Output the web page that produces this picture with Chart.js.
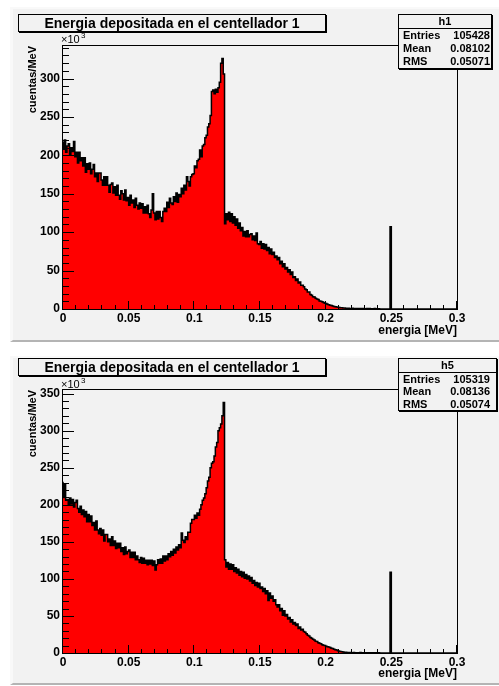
<!DOCTYPE html>
<html>
<head>
<meta charset="utf-8">
<script src="https://cdn.jsdelivr.net/npm/chart.js@4.4.1/dist/chart.umd.min.js"></script>
<style>
  html, body { margin: 0; padding: 0; background: #fff; }
  body { position: relative; width: 499px; height: 686px; overflow: hidden; font-family: "Liberation Sans", Helvetica, Arial, sans-serif; color: #000; }
  .pad { position: absolute; left: 10px; width: 489px; box-sizing: border-box; background: #f2f2f2;
         border-left: 3px solid #f9f9f9; border-top: 2px solid #f9f9f9; border-bottom: 2px solid #b4b4b4; }
  canvas { position: absolute; left: 0; }
  .ptitle { position: absolute; left: 18px; width: 306px; height: 16px; border: 1px solid #000; box-shadow: 1px 1px 0 #000;
            background: #f2f2f2; font: bold 14px "Liberation Sans", Helvetica, Arial, sans-serif; line-height: 16px; text-align: center; white-space: nowrap; }
  .stats { position: absolute; left: 398px; box-sizing: border-box; border: 1px solid #000; box-shadow: 1px 1px 0 #000; background: #f2f2f2;
           font: bold 11px "Liberation Sans", Helvetica, Arial, sans-serif; }
  .stats .sh { text-align: center; border-bottom: 1px solid #000; }
  .stats .sr { display: flex; justify-content: space-between; padding-left: 4px; }
  .exp { position: absolute; left: 61px; font: 11px "Liberation Sans", Helvetica, Arial, sans-serif; line-height: 11px; white-space: nowrap; }
  .exp span { position: absolute; left: 20px; top: -4px; font-size: 8px; }
</style>
</head>
<body>
<script>
// histogram contents, 300 bins of 1 keV from 0 to 0.3 MeV (x10^3 cuentas/MeV)
const BIN_W = 0.001;

const H1_COUNTS = [
  218, 208, 220, 204, 212, 215, 201, 210, 205, 218, 198, 204, 190, 204, 193, 197, 186, 197, 178, 189,
  182, 190, 176, 182, 188, 172, 177, 166, 177, 177, 168, 161, 172, 161, 172, 161, 152, 162, 164, 151,
  159, 148, 161, 148, 143, 154, 150, 142, 155, 141, 145, 135, 148, 138, 142, 132, 144, 135, 130, 138,
  131, 137, 125, 133, 125, 135, 124, 119, 129, 150, 125, 116, 127, 117, 127, 119, 114, 127, 131, 127,
  139, 132, 144, 138, 136, 146, 140, 151, 139, 149, 146, 157, 150, 161, 155, 172, 166, 160, 172, 175,
  176, 186, 184, 193, 195, 207, 198, 212, 214, 223, 226, 237, 241, 252, 283, 285, 280, 286, 282, 288,
  295, 320, 326, 306, 111, 124, 116, 126, 114, 124, 112, 120, 109, 117, 105, 112, 102, 106, 95, 101,
  94, 102, 94, 97, 98, 90, 95, 89, 99, 85, 84, 88, 79, 85, 78, 84, 76, 80, 72, 78,
  71, 74, 67, 69, 64, 67, 59, 62, 55, 59, 52, 54, 48, 51, 45, 48, 41, 42, 37, 39,
  34, 35, 31, 31, 29, 26, 25, 22, 22, 19, 18, 16, 15.5, 14, 13, 12.5, 10.5, 10, 9.5, 8.5,
  7.5, 7, 6.2, 5.5, 5, 4.4, 3.8, 3.4, 3, 2.6, 2.2, 2, 1.7, 1.5, 1.3, 1.2, 1, 0.9, 1.1, 0.8,
  0.6, 0.9, 0.5, 0.7, 0.4, 0.6, 0.3, 0.5, 0.4, 0.7, 0.3, 0.4, 0.6, 0.2, 0.5, 0.3, 0.4, 0.2, 0.5, 0.3,
  0.2, 0.4, 0.1, 0, 0, 0, 0, 0, 0, 0, 107, 0, 0, 0, 0, 0, 0, 0, 0, 0,
  0, 0, 0, 0, 0, 0, 0, 0, 0, 0, 0, 0, 0, 0, 0, 0, 0, 0, 0, 0,
  0, 0, 0, 0, 0, 0, 0, 0, 0, 0, 0, 0, 0, 0, 0, 0, 0, 0, 0, 0,
];

const H5_COUNTS = [
  231, 210, 228, 206, 207, 200, 209, 201, 207, 197, 203, 206, 195, 190, 198, 187, 193, 184, 191, 177,
  187, 177, 185, 172, 176, 166, 178, 166, 161, 168, 159, 166, 151, 160, 160, 150, 154, 145, 157, 145,
  151, 141, 148, 142, 148, 137, 142, 133, 143, 134, 137, 139, 129, 136, 129, 136, 126, 131, 126, 122,
  129, 121, 128, 121, 125, 119, 125, 120, 125, 118, 124, 112, 119, 126, 121, 127, 121, 131, 124, 131,
  126, 134, 130, 137, 132, 140, 135, 143, 139, 146, 142, 162, 152, 149, 157, 153, 163, 163, 175, 180,
  180, 186, 182, 189, 186, 194, 200, 206, 209, 215, 223, 232, 237, 250, 256, 258, 266, 278, 284, 300,
  304, 309, 320, 338, 126, 116, 122, 113, 120, 113, 119, 110, 115, 108, 113, 105, 110, 103, 109, 101,
  106, 100, 104, 97, 102, 94, 98, 91, 95, 89, 94, 87, 89, 83, 87, 80, 84, 71, 81, 74,
  77, 70, 72, 65, 62, 65, 57, 60, 51, 57, 50, 52, 46, 48, 42, 45, 39, 41, 37, 39,
  33, 35, 31, 32, 29, 28, 26, 24, 23, 21, 20, 18.5, 17.5, 16, 15.5, 14, 13, 12.5, 11, 10.5,
  10, 9, 8.5, 8, 7.5, 6.5, 6, 5, 4.5, 4, 3, 2.5, 2, 1.6, 1.3, 1, 0.9, 0.8, 0.6, 0.7,
  0.5, 0.4, 0.6, 0.3, 0.5, 0.4, 0.2, 0.6, 0.3, 0.4, 0.5, 0.2, 0.4, 0.3, 0.5, 0.2, 0.3, 0.4, 0.2, 0.3,
  0.2, 0.3, 0.1, 0, 0, 0, 0, 0, 0, 0, 109, 0, 0, 0, 0, 0, 0, 0, 0, 0,
  0, 0, 0, 0, 0, 0, 0, 0, 0, 0, 0, 0, 0, 0, 0, 0, 0, 0, 0, 0,
  0, 0, 0, 0, 0, 0, 0, 0, 0, 0, 0, 0, 0, 0, 0, 0, 0, 0, 0, 0,
];

const H1_STATS = [['Entries', '105428'], ['Mean', '0.08102'], ['RMS', '0.05071']];
const H5_STATS = [['Entries', '105319'], ['Mean', '0.08136'], ['RMS', '0.05074']];

const PAD_TITLE = 'Energia depositada en el centellador 1';
const X_TITLE = 'energia [MeV]';
const Y_TITLE = 'cuentas/MeV';

const X_MIN = 0, X_MAX = 0.3, X_MAJOR = 0.05, X_MINOR = 0.01;
const Y_MAJOR = 50, Y_MINOR = 10;

const FONT = 'Liberation Sans';

// ROOT-style frame: box around the plot, ticks drawn inward
const rootFrame = {
  id: 'rootFrame',
  afterDatasetsDraw(chart) {
    const { ctx, chartArea: a, scales: { x, y } } = chart;
    ctx.save();
    ctx.strokeStyle = '#000';
    ctx.lineWidth = 1;
    ctx.strokeRect(a.left - 0.5, a.top - 0.5, a.right - a.left + 1, a.bottom - a.top + 1);
    ctx.beginPath();
    const ny = Math.floor(y.max / Y_MINOR + 1e-9);
    for (let i = 0; i <= ny; i++) {
      const py = Math.round(y.getPixelForValue(i * Y_MINOR)) + 0.5;
      const len = (i * Y_MINOR) % Y_MAJOR === 0 ? 11 : 6;
      ctx.moveTo(a.left, py);
      ctx.lineTo(a.left + len, py);
    }
    const nx = Math.round((X_MAX - X_MIN) / X_MINOR);
    const perMajor = Math.round(X_MAJOR / X_MINOR);
    for (let i = 0; i <= nx; i++) {
      const px = Math.round(x.getPixelForValue(X_MIN + i * X_MINOR)) - 0.5;
      const len = i % perMajor === 0 ? 8 : 4;
      ctx.moveTo(px, a.bottom);
      ctx.lineTo(px, a.bottom - len);
    }
    ctx.stroke();
    ctx.restore();
  }
};

const PANELS = [
  { id: 'h1', counts: H1_COUNTS, stats: H1_STATS, top: 0, height: 345, padTop: 7, padH: 335,
    titleTop: 14, boxTop: 14, boxW: 94, headH: 13, rowH: 13, padR: 1, expTop: 34,
    plotTop: 46, xAxisH: 36, xTitlePad: 7 },
  { id: 'h5', counts: H5_COUNTS, stats: H5_STATS, top: 345, height: 341, padTop: 356, padH: 329,
    titleTop: 358, boxTop: 358, boxW: 99, headH: 12.5, rowH: 12.6, padR: 6, expTop: 379,
    plotTop: 45, xAxisH: 33, xTitlePad: 5 },
];

function el(tag, cls, style, text) {
  const e = document.createElement(tag);
  if (cls) e.className = cls;
  if (style) Object.assign(e.style, style);
  if (text != null) e.textContent = text;
  document.body.appendChild(e);
  return e;
}

function buildPanel(p) {
  el('div', 'pad', { top: p.padTop + 'px', height: p.padH + 'px' });

  const cv = el('canvas', null, { top: p.top + 'px' });
  cv.width = 499;
  cv.height = p.height;

  const pts = p.counts.map((v, i) => ({ x: X_MIN + i * BIN_W, y: v }));
  pts.push({ x: X_MIN + p.counts.length * BIN_W, y: p.counts[p.counts.length - 1] });
  const yMax = 1.05 * Math.max(...p.counts);

  new Chart(cv, {
    type: 'line',
    data: {
      datasets: [{
        data: pts,
        stepped: 'after',
        fill: 'origin',
        backgroundColor: '#ff0000',
        borderColor: '#000',
        borderWidth: 1.5,
        pointRadius: 0,
        tension: 0,
      }]
    },
    options: {
      responsive: false, animation: false, devicePixelRatio: 1,
      layout: { padding: { left: 20, right: 42, top: p.plotTop, bottom: 0 } },
      plugins: { legend: { display: false }, tooltip: { enabled: false } },
      scales: {
        x: {
          type: 'linear', min: X_MIN, max: X_MAX,
          afterFit: s => { s.height = p.xAxisH; },
          grid: { display: false, drawTicks: false }, border: { display: false },
          ticks: { stepSize: X_MAJOR, autoSkip: false, maxRotation: 0, padding: 2, color: '#000',
                   font: { family: FONT, size: 12, weight: 'bold' },
                   callback: v => String(+v.toFixed(2)) },
          title: { display: true, text: X_TITLE, align: 'end', color: '#000',
                   font: { family: FONT, size: 12, weight: 'bold' }, padding: { top: 0, bottom: p.xTitlePad } }
        },
        y: {
          type: 'linear', min: 0, max: yMax,
          afterFit: s => { s.width = 43; },
          grid: { display: false, drawTicks: false }, border: { display: false },
          ticks: { stepSize: Y_MAJOR, includeBounds: false, padding: 3, color: '#000',
                   font: { family: FONT, size: 12, weight: 'bold' } },
          title: { display: true, text: Y_TITLE, align: 'end', color: '#000',
                   font: { family: FONT, size: 11, weight: 'bold' }, padding: { top: 6, bottom: 0 } }
        }
      }
    },
    plugins: [rootFrame]
  });

  el('div', 'ptitle', { top: p.titleTop + 'px' }, PAD_TITLE);

  const box = el('div', 'stats', { top: p.boxTop + 'px', width: p.boxW + 'px' });
  const head = document.createElement('div');
  head.className = 'sh';
  head.style.height = head.style.lineHeight = p.headH + 'px';
  head.textContent = p.id;
  box.appendChild(head);
  p.stats.forEach(([k, v]) => {
    const r = document.createElement('div');
    r.className = 'sr';
    r.style.height = r.style.lineHeight = p.rowH + 'px';
    r.style.paddingRight = p.padR + 'px';
    const a = document.createElement('span'); a.textContent = k;
    const b = document.createElement('span'); b.textContent = v;
    r.appendChild(a); r.appendChild(b);
    box.appendChild(r);
  });

  const ex = el('div', 'exp', { top: p.expTop + 'px' }, '\u00d710');
  const sup = document.createElement('span');
  sup.textContent = '3';
  ex.appendChild(sup);
}

PANELS.forEach(buildPanel);
</script>
</body>
</html>
